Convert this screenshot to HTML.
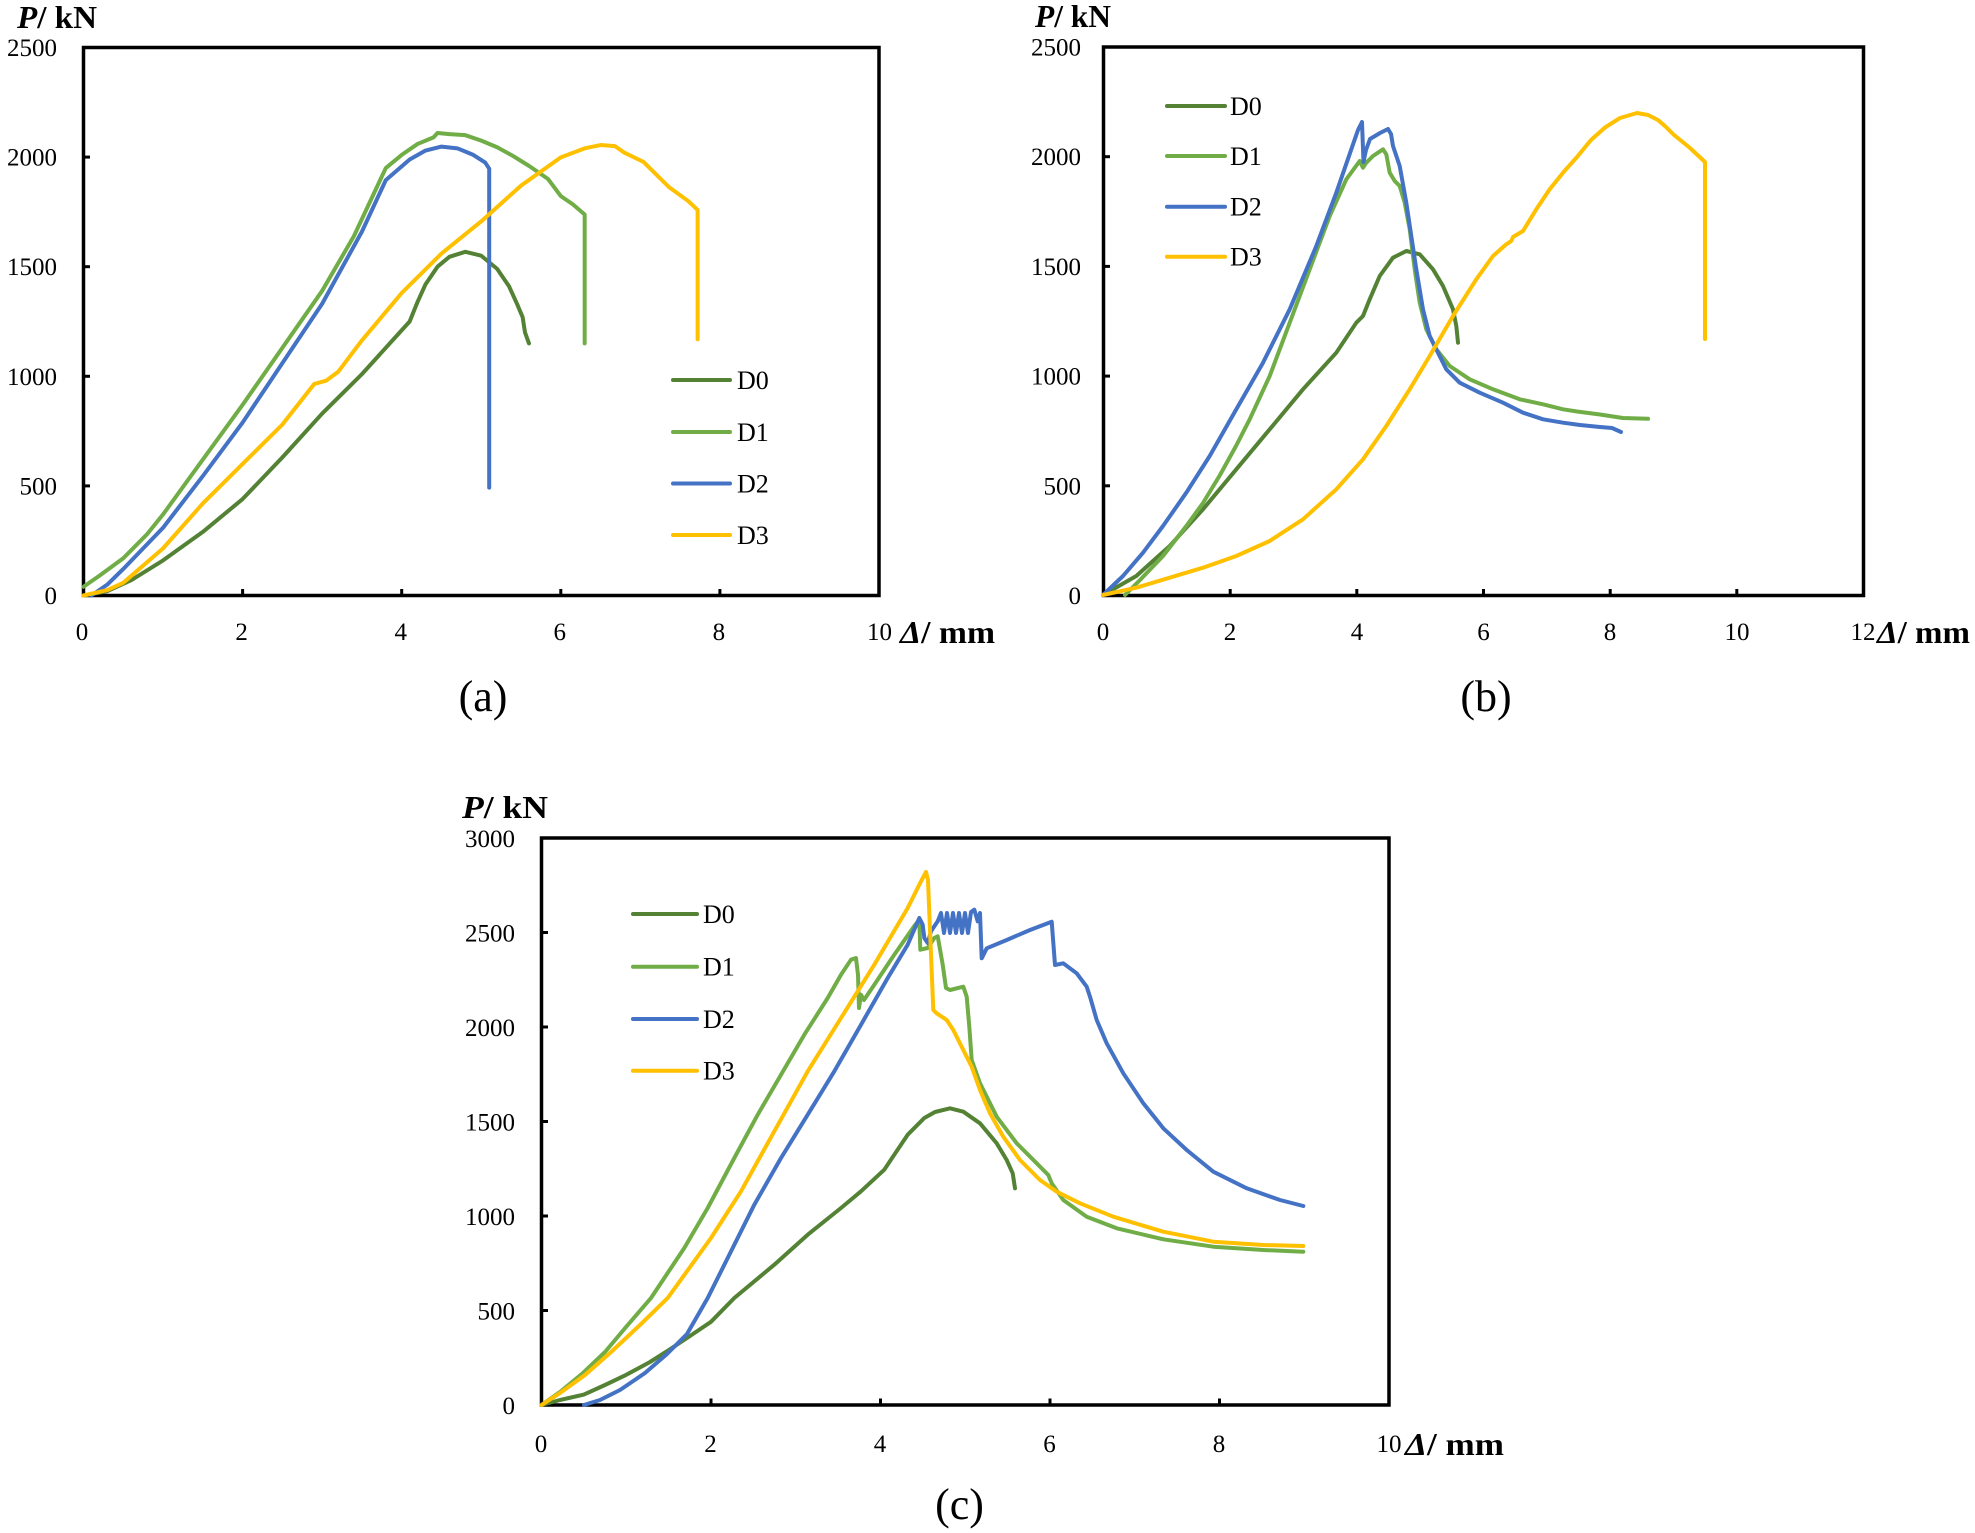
<!DOCTYPE html>
<html><head><meta charset="utf-8"><style>
html,body{margin:0;padding:0;background:#fff;}
svg{display:block;}
text{font-family:"Liberation Serif","DejaVu Serif",serif;fill:#000;}
.t{font-size:25px;}
.lg{font-size:26px;}
.ax{font-size:32px;font-weight:bold;}
.cap{font-size:44px;}
.s{fill:none;stroke-linejoin:round;stroke-linecap:round;}
.d0{stroke:#548235;}.d1{stroke:#70AD47;}.d2{stroke:#4472C4;}.d3{stroke:#FFC000;}
</style></head><body>
<svg width="1975" height="1533" viewBox="0 0 1975 1533" xmlns="http://www.w3.org/2000/svg">
<rect width="1975" height="1533" fill="#fff"/>

<!-- ============ (a) ============ -->
<g>
<rect x="83.5" y="47.5" width="795.5" height="548" fill="none" stroke="#000" stroke-width="3.5"/>
<g stroke="#000" stroke-width="3">
<line x1="83.5" y1="157.1" x2="90" y2="157.1"/><line x1="83.5" y1="266.7" x2="90" y2="266.7"/><line x1="83.5" y1="376.3" x2="90" y2="376.3"/><line x1="83.5" y1="485.9" x2="90" y2="485.9"/>
<line x1="242.6" y1="595.5" x2="242.6" y2="589"/><line x1="401.7" y1="595.5" x2="401.7" y2="589"/><line x1="560.8" y1="595.5" x2="560.8" y2="589"/><line x1="719.9" y1="595.5" x2="719.9" y2="589"/>
</g>
<g class="t" text-anchor="end">
<text x="57" y="56">2500</text><text x="57" y="165.6">2000</text><text x="57" y="275.2">1500</text><text x="57" y="384.8">1000</text><text x="57" y="494.4">500</text><text x="57" y="604">0</text>
</g>
<g class="t" text-anchor="middle">
<text x="82" y="640">0</text><text x="241.6" y="640">2</text><text x="400.7" y="640">4</text><text x="559.8" y="640">6</text><text x="718.9" y="640">8</text><text x="879.5" y="640">10</text>
</g>
<text class="ax" x="900" y="643" textLength="95" lengthAdjust="spacingAndGlyphs"><tspan font-style="italic">Δ</tspan>/ mm</text>
<text class="ax" x="17" y="28" textLength="80" lengthAdjust="spacingAndGlyphs"><tspan font-style="italic">P</tspan>/ kN</text>
<text class="cap" x="483" y="711" text-anchor="middle">(a)</text>

<g transform="translate(83.5,595.5) scale(79.55,-0.2192)" stroke-width="4">
<polyline class="s d0" vector-effect="non-scaling-stroke" points="0,0 0.3,20 0.6,70 1.0,160 1.5,290 2,440 2.5,630 3,830 3.5,1010 4,1210 4.1,1250 4.2,1340 4.3,1420 4.45,1500 4.6,1545 4.8,1568 5.0,1550 5.2,1490 5.35,1410 5.45,1330 5.52,1270 5.55,1200 5.6,1150"/>
<polyline class="s d1" vector-effect="non-scaling-stroke" points="0,40 0.2,90 0.5,170 0.8,280 1,370 1.5,620 2,870 2.5,1130 3,1390 3.4,1640 3.8,1950 4.0,2010 4.2,2060 4.4,2090 4.45,2110 4.6,2105 4.8,2100 5.0,2075 5.2,2045 5.4,2005 5.6,1960 5.84,1900 6.0,1822 6.15,1785 6.3,1738 6.3,1150"/>
<polyline class="s d2" vector-effect="non-scaling-stroke" points="0.1,0 0.3,50 0.5,121 1,309 1.5,545 2,789 2.5,1060 3,1331 3.5,1660 3.8,1895 4.1,1989 4.3,2030 4.5,2048 4.7,2040 4.9,2010 5.05,1975 5.1,1947 5.1,492"/>
<polyline class="s d3" vector-effect="non-scaling-stroke" points="0,0 0.3,25 0.5,58 1,215 1.5,420 2,600 2.5,780 2.9,965 3.05,980 3.2,1020 3.5,1164 4,1380 4.5,1560 5,1707 5.5,1870 6,1999 6.3,2040 6.5,2055 6.68,2050 6.8,2020 7.04,1978 7.36,1863 7.6,1800 7.72,1759 7.72,1169"/>
</g>
<g stroke-width="4">
<line class="s d0" x1="673" y1="380" x2="730" y2="380"/>
<line class="s d1" x1="673" y1="432" x2="730" y2="432"/>
<line class="s d2" x1="673" y1="483.5" x2="730" y2="483.5"/>
<line class="s d3" x1="673" y1="535" x2="730" y2="535"/>
</g>
<g class="lg"><text x="737" y="389">D0</text><text x="737" y="441">D1</text><text x="737" y="492.5">D2</text><text x="737" y="544">D3</text></g>
</g>

<!-- ============ (b) ============ -->
<g>
<rect x="1103.5" y="47" width="760" height="548.5" fill="none" stroke="#000" stroke-width="3.5"/>
<g stroke="#000" stroke-width="3">
<line x1="1103.5" y1="156.7" x2="1110" y2="156.7"/><line x1="1103.5" y1="266.4" x2="1110" y2="266.4"/><line x1="1103.5" y1="376.1" x2="1110" y2="376.1"/><line x1="1103.5" y1="485.8" x2="1110" y2="485.8"/>
<line x1="1230.2" y1="595.5" x2="1230.2" y2="589"/><line x1="1356.8" y1="595.5" x2="1356.8" y2="589"/><line x1="1483.5" y1="595.5" x2="1483.5" y2="589"/><line x1="1610.2" y1="595.5" x2="1610.2" y2="589"/><line x1="1736.8" y1="595.5" x2="1736.8" y2="589"/>
</g>
<g class="t" text-anchor="end">
<text x="1081" y="55.5">2500</text><text x="1081" y="165.2">2000</text><text x="1081" y="274.9">1500</text><text x="1081" y="384.6">1000</text><text x="1081" y="494.3">500</text><text x="1081" y="604">0</text>
</g>
<g class="t" text-anchor="middle">
<text x="1103" y="640">0</text><text x="1230" y="640">2</text><text x="1357" y="640">4</text><text x="1483.5" y="640">6</text><text x="1610" y="640">8</text><text x="1737" y="640">10</text><text x="1863" y="640">12</text>
</g>
<text class="ax" x="1877" y="643" textLength="93" lengthAdjust="spacingAndGlyphs"><tspan font-style="italic">Δ</tspan>/ mm</text>
<text class="ax" x="1035" y="27" textLength="76" lengthAdjust="spacingAndGlyphs"><tspan font-style="italic">P</tspan>/ kN</text>
<text class="cap" x="1486" y="711" text-anchor="middle">(b)</text>

<g stroke-width="4">
<polyline class="s d0" points="1103,595 1136.3,576 1169.7,546 1203,509.3 1236.3,469.3 1269.7,429.3 1303,389.3 1336.3,352.7 1356.3,322.7 1363,316 1369.7,299.3 1379.7,276 1393,257.7 1406.3,251 1419.7,254.3 1433,269.3 1443,286 1453,309.3 1456.3,326 1458,342.7"/>
<polyline class="s d1" points="1125,595 1140,580 1163,556 1186.3,526 1203,503 1220,475 1236,446 1249.7,419.3 1269.7,376 1289.7,322.7 1309.7,269.3 1329.7,216 1346.3,179.3 1359.7,161 1363,167.7 1366.3,162.7 1373,156 1383,149.3 1386.3,154.3 1389.7,172.7 1394.7,181 1399.7,186 1404.7,202.7 1409.7,229.3 1414.7,269.3 1419.7,302.7 1426.3,329.3 1436.3,349.3 1449.7,366 1469.7,379.3 1493,389.3 1519.7,399.3 1543,404.3 1563,409.3 1577,411.5 1600,414.5 1622.8,418 1648,418.8"/>
<polyline class="s d2" points="1103,595 1123,576 1143,552.7 1163,526 1186.3,492.7 1209.7,456 1236.3,409.3 1263,362.7 1289.7,309.3 1316.3,246 1336.3,192.7 1351.3,149.3 1358,130 1362,122 1363.5,162 1366,150 1370,139 1380,133 1388,129 1391,134 1393,146 1399.7,166 1406.3,202.7 1411.3,236 1416.3,269.3 1423,309.3 1429.7,336 1436.3,349.3 1446.3,369.3 1459.7,382.7 1479.7,392.7 1503,402.7 1523,412.7 1543,419.3 1563,422.7 1580,425 1600,427 1612,428 1621,432"/>
<polyline class="s d3" points="1103,595 1136.3,587.7 1169.7,577.7 1203,567.7 1236.3,556 1269.7,541 1303,519.3 1336.3,489.3 1363,459.3 1386.3,426 1409.7,389.3 1429.7,356 1453,316 1476.3,279.3 1493,256 1506.3,244.3 1511.3,241 1513,237 1523,231 1536.3,209.3 1549.7,189.3 1563,172.7 1577,157 1591,140 1605,127.5 1620,118 1637,113 1648,115 1658,120 1666,127 1673.5,134.5 1690,148 1705,162 1705,339"/>
</g>
<g stroke-width="4">
<line class="s d0" x1="1167" y1="106" x2="1225" y2="106"/>
<line class="s d1" x1="1167" y1="156" x2="1225" y2="156"/>
<line class="s d2" x1="1167" y1="206.7" x2="1225" y2="206.7"/>
<line class="s d3" x1="1167" y1="256.7" x2="1225" y2="256.7"/>
</g>
<g class="lg"><text x="1230" y="115">D0</text><text x="1230" y="165">D1</text><text x="1230" y="215.7">D2</text><text x="1230" y="265.7">D3</text></g>
</g>

<!-- ============ (c) ============ -->
<g>
<rect x="541.5" y="838" width="847.5" height="567" fill="none" stroke="#000" stroke-width="3.5"/>
<g stroke="#000" stroke-width="3">
<line x1="541.5" y1="932.5" x2="548" y2="932.5"/><line x1="541.5" y1="1027" x2="548" y2="1027"/><line x1="541.5" y1="1121.5" x2="548" y2="1121.5"/><line x1="541.5" y1="1216" x2="548" y2="1216"/><line x1="541.5" y1="1310.5" x2="548" y2="1310.5"/>
<line x1="711" y1="1405" x2="711" y2="1398.5"/><line x1="880.5" y1="1405" x2="880.5" y2="1398.5"/><line x1="1050" y1="1405" x2="1050" y2="1398.5"/><line x1="1219.5" y1="1405" x2="1219.5" y2="1398.5"/>
</g>
<g class="t" text-anchor="end">
<text x="515" y="847">3000</text><text x="515" y="941.5">2500</text><text x="515" y="1036">2000</text><text x="515" y="1130.5">1500</text><text x="515" y="1225">1000</text><text x="515" y="1319.5">500</text><text x="515" y="1414">0</text>
</g>
<g class="t" text-anchor="middle">
<text x="541" y="1452">0</text><text x="710.5" y="1452">2</text><text x="880" y="1452">4</text><text x="1049.5" y="1452">6</text><text x="1219" y="1452">8</text><text x="1389" y="1452">10</text>
</g>
<text class="ax" x="1405" y="1455" textLength="99" lengthAdjust="spacingAndGlyphs"><tspan font-style="italic">Δ</tspan>/ mm</text>
<text class="ax" x="462" y="818" textLength="86" lengthAdjust="spacingAndGlyphs"><tspan font-style="italic">P</tspan>/ kN</text>
<text class="cap" x="959.5" y="1519" text-anchor="middle">(c)</text>

<g stroke-width="4">
<polyline class="s d0" points="541.5,1405 560,1400 583.9,1394.6 605,1385 626.3,1374.8 650,1362 668.6,1350.2 690,1336 711,1321.8 734.3,1298 774.3,1264.7 807.7,1234.7 841,1208 861,1191.3 884.3,1169.7 894.3,1154.7 907.7,1134.7 924.3,1118 935,1112 950,1108.3 963.3,1111.7 980,1123.3 996.7,1143.3 1006.7,1160 1012.7,1173.3 1015,1188.3"/>
<polyline class="s d1" points="541.5,1405 560,1392 583,1373 605,1352 626,1327 651,1298 684.3,1248 707.7,1208 734.3,1158 757.7,1114.7 781,1074.7 804.3,1034.7 827.7,998 841,974.7 851,959.7 856,958 858,975 859,1008 861,994.7 864,1000 874.3,984.7 894.3,954.7 914.3,926 919.3,919.7 920.3,949.7 927.7,948 934.3,938 937.7,936.3 942.7,964.7 946,988 950,990 963.3,986.7 966.7,996.7 969.3,1026.7 971.7,1060 980,1083.3 996.7,1116.7 1016.7,1143.3 1036.7,1163.3 1048.3,1175 1051.7,1183.3 1063.3,1200 1086.7,1216.7 1116.7,1228.3 1163.3,1239.3 1213.3,1246.7 1263.3,1250 1303.3,1251.7"/>
<polyline class="s d2" points="584,1405 600,1400 620,1390 645,1373 667,1354 687,1334 707.7,1298 727.7,1258 754.3,1204.7 781,1158 807.7,1114.7 834.3,1071.3 861,1024.7 887.7,978 907.7,944.7 919.3,918 922.7,924.7 924.3,938 927.7,943 931,931.3 937.7,921.3 941,913 944,933 947,913 950,933 953,913 956,933 959,913 962,933 965,913 968,933 971,912 974.3,909.7 977.7,921.3 980,913 981.7,958.3 986.7,948.3 1006.7,940 1030,930 1051.7,921.7 1055,965 1063.3,963.3 1076.7,973.3 1086.7,986.7 1090,996.7 1096.7,1020 1106.7,1043.3 1123.3,1073.3 1143.3,1103.3 1163.3,1128.3 1186.7,1150 1213.3,1171.7 1246.7,1188.3 1280,1200 1303.3,1206"/>
<polyline class="s d3" points="541.5,1405 560,1393 585,1375 610,1353 640,1325 667.7,1298 711,1238 741,1191.3 774.3,1131.3 807.7,1071.3 841,1018 874.3,964.7 907.7,908 921,881.3 926,872 928,880 930,930 933.3,1010 936.7,1013.3 946.7,1020 953.3,1030 963.3,1050 971.7,1066.7 980,1090 990,1113.3 1003.3,1136.7 1020,1160 1040,1180 1056.7,1191.7 1080,1203.3 1113.3,1216.7 1163.3,1231.7 1213.3,1241.7 1263.3,1245 1303.3,1246"/>
</g>
<g stroke-width="4">
<line class="s d0" x1="633" y1="914" x2="697" y2="914"/>
<line class="s d1" x1="633" y1="966.7" x2="697" y2="966.7"/>
<line class="s d2" x1="633" y1="1019" x2="697" y2="1019"/>
<line class="s d3" x1="633" y1="1070.7" x2="697" y2="1070.7"/>
</g>
<g class="lg"><text x="703" y="923">D0</text><text x="703" y="975.7">D1</text><text x="703" y="1028">D2</text><text x="703" y="1079.7">D3</text></g>
</g>
</svg>
</body></html>
